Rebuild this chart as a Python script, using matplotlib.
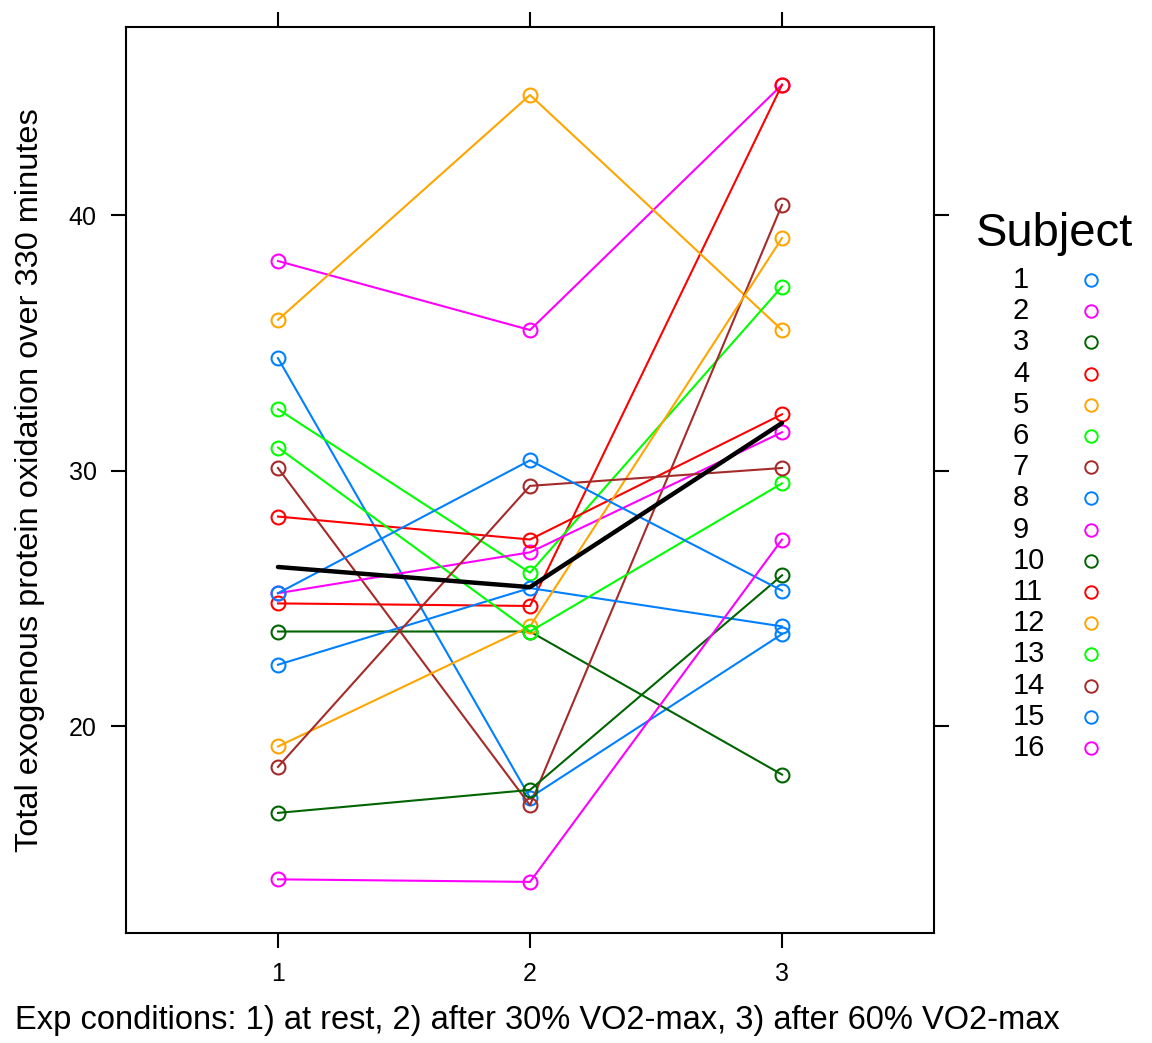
import matplotlib
matplotlib.use("Agg")
import matplotlib.pyplot as plt
from matplotlib.lines import Line2D
import numpy as np

plt.rcParams['font.family'] = ['Liberation Sans', 'DejaVu Sans']

conditions = [1, 2, 3]
subjects = [str(i) for i in range(1, 17)]
values = {
    "1":  [34.4, 17.2, 23.6],
    "2":  [38.2, 35.5, 45.1],
    "3":  [23.7, 23.7, 18.1],
    "4":  [24.8, 24.7, 45.1],
    "5":  [35.9, 44.7, 35.5],
    "6":  [32.4, 26.0, 37.2],
    "7":  [30.1, 16.9, 40.4],
    "8":  [22.4, 25.4, 23.9],
    "9":  [25.2, 26.8, 31.5],
    "10": [16.6, 17.5, 25.9],
    "11": [28.2, 27.3, 32.2],
    "12": [19.2, 23.9, 39.1],
    "13": [30.9, 23.7, 29.5],
    "14": [18.4, 29.4, 30.1],
    "15": [25.2, 30.4, 25.3],
    "16": [14.0, 13.9, 27.3],
}
palette = ["#0080ff", "#ff00ff", "#006400", "#ff0000", "#ffa500", "#00ff00", "#a52a2a"]

fig = plt.figure(figsize=(11.52, 10.43), dpi=100)
ax = fig.add_axes([126/1152, 1 - 933/1043, (934-126)/1152, (933-27)/1043])

for i, s in enumerate(subjects):
    c = palette[i % len(palette)]
    ax.plot(conditions, values[s], color=c, lw=1.5, marker='o', ms=10,
            mfc='none', mec=c, mew=1.5, zorder=2)

mean = np.mean(np.array([values[s] for s in subjects]), axis=0)
ax.plot(conditions, mean, color='black', lw=3.2, zorder=3, solid_capstyle='round')

ax.set_xlim(0.397, 3.603)
ax.set_ylim(11.9, 47.36)
ax.set_xticks([1, 2, 3])
ax.set_yticks([20, 30, 40])
ax.tick_params(direction='out', length=11, width=1.5, labelsize=18, pad=10,
               top=True, right=True, labeltop=False, labelright=False)
for sp in ax.spines.values():
    sp.set_linewidth(1.5)

fig.text(30/1152, 1 - 480/1043, "Total exogenous protein oxidation over 330 minutes",
         rotation=90, ha='center', va='center', fontsize=23.4)
fig.text(537/1152, 1 - 1020/1043,
         "Exp conditions: 1) at rest, 2) after 30% VO2-max, 3) after 60% VO2-max",
         ha='center', va='center', fontsize=23.5)

# legend
fig.text(1055/1152, 1 - 234/1043, "Subject", ha='center', va='center', fontsize=34)
for i, s in enumerate(subjects):
    y = 1 - (280 + i * 31.2) / 1043
    c = palette[i % len(palette)]
    fig.text(1013/1152, y, s, ha='left', va='center', fontsize=21)
    fig.lines.append(Line2D([1091/1152], [y], transform=fig.transFigure,
                            marker='o', ms=9, mfc='none', mec=c, mew=1.4,
                            linestyle='none'))

fig.savefig("out.png", dpi=100)
